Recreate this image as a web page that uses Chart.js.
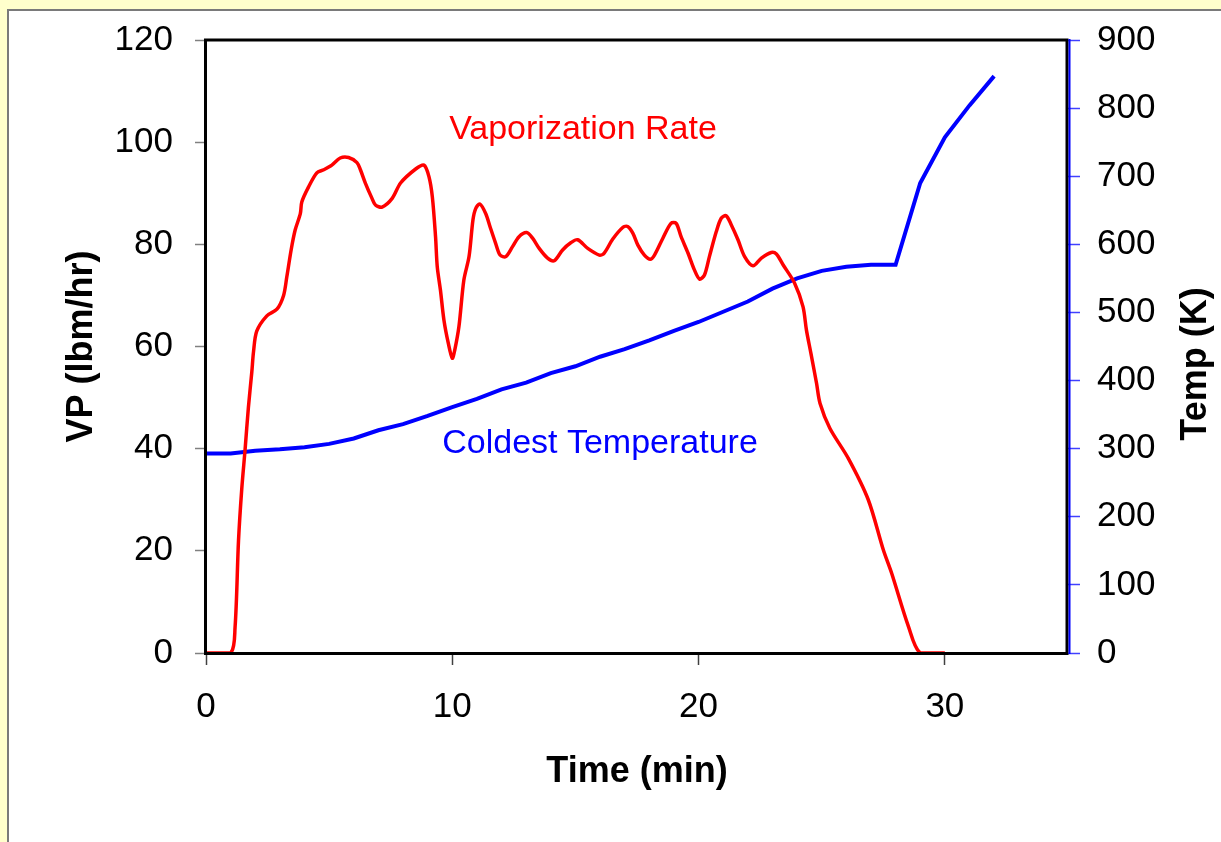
<!DOCTYPE html>
<html>
<head>
<meta charset="utf-8">
<script src="https://cdn.jsdelivr.net/npm/chart.js@4.4.1/dist/chart.umd.min.js"></script>
<style>
  html, body { margin: 0; padding: 0; background: #FFFFCC; overflow: hidden; }
  #panel { position: absolute; left: 7px; top: 9px; width: 1300px; height: 900px; background: #fff; border: 2px solid #7a7a7a; }
  #wrap { position: absolute; left: 0; top: 0; width: 1221px; height: 842px; }
</style>
</head>
<body>
<div id="panel"></div>
<div id="wrap"><canvas id="chart"></canvas></div>
<script>
// Vaporization rate (lbm/hr) vs time (min)
const redTime = [0, 1, 1.18, 1.32, 1.45, 1.59, 1.72, 1.86, 1.93, 2.06, 2.47, 2.88, 3.15, 3.28, 3.46, 3.62, 3.83, 3.89, 4.16, 4.5,
  4.78, 5.11, 5.45, 5.79, 6.13, 6.27, 6.47, 6.74, 6.88, 7.15, 7.56, 7.9, 8.5, 8.85, 9.05, 9.19, 9.32, 9.39, 9.52, 9.66,
  9.84, 10.0, 10.1, 10.27, 10.47, 10.68, 10.84, 10.95, 11.12, 11.36, 11.53, 11.76, 11.94, 12.17, 12.44, 12.71, 13.02, 13.26, 13.53, 13.87,
  14.14, 14.48, 14.81, 15.09, 15.5, 15.97, 16.17, 16.51, 16.92, 17.12, 17.33, 17.53, 17.8, 18.04, 18.21, 18.55, 18.88, 19.09, 19.29, 19.57,
  19.83, 20.04, 20.24, 20.44, 20.72, 20.92, 21.12, 21.33, 21.6, 21.87, 22.21, 22.55, 22.95, 23.16, 23.43, 23.9, 24.24, 24.38, 24.56, 24.79,
  24.93, 25.33, 26.08, 26.89, 27.5, 27.84, 28.52, 29.0, 30];
const redVP = [0, 0, 5, 22, 32, 40, 48, 55, 59, 63, 66, 67.3, 70, 73.6, 79, 82.8, 86, 88.3, 91.2, 94,
  94.6, 95.5, 96.9, 97, 96, 94.6, 92, 89, 87.7, 87.3, 89, 92, 94.7, 95.5, 93.3, 89.3, 81.5, 75.6, 71, 65.2,
  60.6, 57.7, 59.3, 63.9, 73, 77.6, 84.8, 87, 87.9, 86, 83.5, 80.2, 77.9, 77.6, 79.5, 81.5, 82.3, 81.2, 79.2, 77.3,
  76.8, 78.9, 80.3, 80.9, 79.2, 77.9, 78.3, 81, 83.3, 83.5, 82.2, 79.9, 77.9, 77.1, 77.9, 81.2, 84.1, 84.1, 81.5, 78.3,
  75, 73.2, 74, 77.6, 82.5, 85.1, 85.6, 83.8, 80.9, 77.6, 75.8, 77.3, 78.4, 78.1, 76, 72.4, 67.8, 63.2, 58.7, 52.8,
  48.9, 44, 38.1, 30, 20.2, 15.6, 5.2, 0, 0];

// Coldest temperature (K) vs time (min)
const tempTime = [0, 1, 2, 3, 4, 5, 6, 7, 8, 9, 10, 11, 12, 13, 14, 15, 16, 17, 18, 19, 20,
  21, 22, 23, 24, 25, 26, 27, 28, 29, 30, 31, 32];
const tempK = [293, 293, 297, 299, 302, 307, 315, 327, 336, 348, 361, 373, 387, 397, 411, 421, 435, 446, 459, 473, 486,
  501, 516, 535, 550, 561, 567, 570, 570, 690, 757, 804, 847];

const timeTicks = [0, 10, 20, 30];
const vpTicks = [0, 20, 40, 60, 80, 100, 120];
const tempTicks = [0, 100, 200, 300, 400, 500, 600, 700, 800, 900];

const FONT = '"Liberation Sans", Arial, sans-serif';

function toPoints(xs, ys) {
    return xs.map((x, i) => ({ x: x, y: ys[i] }));
}

// keep the plot area where the reference has it
function fixBox(size, horizontal) {
    return s => {
        if (horizontal) {
            s.height = size;
            s.paddingLeft = 0;
            s.paddingRight = 0;
        } else {
            s.width = size;
            s.paddingTop = 0;
            s.paddingBottom = 0;
        }
    };
}

// frame, labels in the plot and the right axis title
const decorPlugin = {
    id: 'decor',
    afterDatasetsDraw(chart) {
        const ctx = chart.ctx;
        const a = chart.chartArea;
        ctx.save();
        ctx.strokeStyle = '#000';
        ctx.lineWidth = 3;
        ctx.strokeRect(a.left - 0.5, a.top, a.right - a.left - 0.5, a.bottom - a.top + 0.5);
        ctx.strokeStyle = '#0000FF';
        ctx.lineWidth = 2;
        ctx.beginPath();
        ctx.moveTo(a.right + 1.5, a.top - 1);
        ctx.lineTo(a.right + 1.5, a.bottom + 1);
        ctx.stroke();

        ctx.font = '34px ' + FONT;
        ctx.textAlign = 'center';
        ctx.textBaseline = 'middle';
        ctx.fillStyle = '#FF0000';
        ctx.fillText('Vaporization Rate', 583, 130);
        ctx.fillStyle = '#0000FF';
        ctx.fillText('Coldest Temperature', 600, 444);

        ctx.fillStyle = '#000';
        ctx.font = 'bold 36px ' + FONT;
        ctx.translate(1196, 364);
        ctx.rotate(-Math.PI / 2);
        ctx.fillText('Temp (K)', 0, 0);
        ctx.restore();
    }
};

const ctx = document.getElementById('chart').getContext('2d');
new Chart(ctx, {
    type: 'line',
    data: {
        datasets: [{
            label: 'Vaporization Rate',
            data: toPoints(redTime, redVP),
            yAxisID: 'y',
            borderColor: '#FF0000',
            borderWidth: 3.5,
            pointRadius: 0,
            tension: 0.3
        }, {
            label: 'Coldest Temperature',
            data: toPoints(tempTime, tempK),
            yAxisID: 'y2',
            borderColor: '#0000FF',
            borderWidth: 4,
            pointRadius: 0,
            tension: 0
        }]
    },
    options: {
        responsive: true,
        maintainAspectRatio: false,
        animation: false,
        layout: { padding: { top: 40, left: 0, right: 0, bottom: 0 } },
        plugins: {
            legend: { display: false },
            tooltip: { enabled: false }
        },
        scales: {
            x: {
                type: 'linear',
                min: 0,
                max: 35,
                afterBuildTicks: s => { s.ticks = timeTicks.map(v => ({ value: v })); },
                afterFit: fixBox(189, true),
                border: { display: false },
                grid: { drawOnChartArea: false, tickLength: 12, tickColor: '#404040', tickWidth: 1.5 },
                ticks: { color: '#000', padding: 21, font: { family: FONT, size: 35 } },
                title: {
                    display: true,
                    text: 'Time (min)',
                    color: '#000',
                    font: { family: FONT, size: 36, weight: 'bold' },
                    padding: { top: 0, bottom: 48 }
                }
            },
            y: {
                position: 'left',
                min: 0,
                max: 120,
                afterBuildTicks: s => { s.ticks = vpTicks.map(v => ({ value: v })); },
                afterFit: fixBox(206, false),
                border: { display: false },
                grid: { drawOnChartArea: false, tickLength: 11, tickColor: '#808080', tickWidth: 1.5 },
                ticks: { color: '#000', padding: 22, font: { family: FONT, size: 35 } },
                title: {
                    display: true,
                    text: 'VP (lbm/hr)',
                    color: '#000',
                    font: { family: FONT, size: 36, weight: 'bold' },
                    padding: { top: 60, bottom: 0 }
                }
            },
            y2: {
                position: 'right',
                min: 0,
                max: 900,
                afterBuildTicks: s => { s.ticks = tempTicks.map(v => ({ value: v })); },
                afterFit: fixBox(153, false),
                border: { display: false },
                grid: { drawOnChartArea: false, tickLength: 12, tickColor: '#4040FF', tickWidth: 1.5 },
                ticks: { color: '#000', padding: 17, font: { family: FONT, size: 35 } }
            }
        }
    },
    plugins: [decorPlugin]
});
</script>
</body>
</html>
